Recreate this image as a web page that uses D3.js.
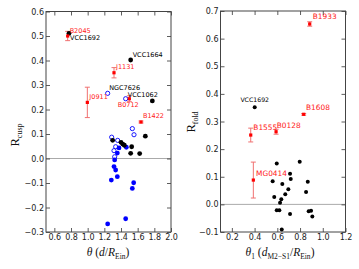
<!doctype html>
<html>
  <head>
    <meta charset="utf-8" />
    <style>
      body { margin: 0; background: #fff; }
      svg { display: block; }
      .tick text { font-family: "DejaVu Sans", sans-serif; font-size: 8px; fill: #222; }
      .lab { font-family: "DejaVu Sans", sans-serif; }
      .ttl { font-family: "Liberation Serif", "DejaVu Serif", serif; fill: #111; }
    </style>
  </head>
  <body>
    <svg id="chart" width="359" height="269"></svg>
    <script src="https://d3js.org/d3.v7.min.js"></script>
    <script>
      // ---- left panel: R_cusp vs theta ----
      const cuspRedNames = ['B2045', 'J1131', 'J0911', 'B0712', 'B1422'];
      const cuspRedX = [0.76, 1.316, 0.996, 1.5, 1.64];
      const cuspRedY = [0.5, 0.35, 0.229, 0.244, 0.149];
      const cuspRedErr = [0.019, 0.021, 0.062, 0.012, 0.004];

      const cuspBlackNames = ['VCC1692', 'VCC1664', 'VCC1062'];
      const cuspBlackX = [0.776, 1.516, 1.776, 1.3, 1.4, 1.42, 1.44, 1.528, 1.516, 1.624, 1.692];
      const cuspBlackY = [0.511, 0.402, 0.235, 0.074, 0.066, 0.059, 0.054, 0.048, 0.021, 0.02, 0.091];

      const cuspOpenNames = ['NGC7626'];
      const cuspOpenX = [1.24, 1.456, 1.536, 1.556, 1.288, 1.36, 1.336, 1.316, 1.324];
      const cuspOpenY = [0.266, 0.244, 0.122, 0.097, 0.087, 0.074, 0.048, 0.032, 0.007];

      const cuspBlueX = [1.376, 1.464, 1.356, 1.324, 1.316, 1.336, 1.356, 1.284, 1.552, 1.536, 1.456, 1.24];
      const cuspBlueY = [0.043, 0.046, 0.022, -0.006, -0.033, -0.047, -0.074, -0.088, -0.099, -0.122, -0.246, -0.267];

      const cuspXTicks = [0.6, 0.8, 1.0, 1.2, 1.4, 1.6, 1.8, 2.0];
      const cuspYTicks = [-0.3, -0.2, -0.1, 0.0, 0.1, 0.2, 0.3, 0.4, 0.5, 0.6];

      // ---- right panel: R_fold vs theta_1 ----
      const foldRedNames = ['B1933', 'B1608', 'B1555', 'B0128', 'MG0414'];
      const foldRedX = [0.885, 0.832, 0.366, 0.589, 0.389];
      const foldRedY = [0.653, 0.326, 0.251, 0.263, 0.088];
      const foldRedErr = [0.008, 0.003, 0.025, 0.009, 0.065];

      const foldBlackNames = ['VCC1692'];
      const foldBlackX = [0.401, 0.595, 0.797, 0.559, 0.712, 0.718, 0.644, 0.868, 0.697, 0.67, 0.853,
        0.573, 0.635, 0.624, 0.595, 0.618, 0.712, 0.876, 0.897, 0.908, 0.639];
      const foldBlackY = [0.352, 0.148, 0.154, 0.084, 0.111, 0.092, 0.074, 0.082, 0.055, 0.037, 0.045,
        0.027, 0.019, 0.006, -0.021, -0.021, -0.035, -0.025, -0.023, -0.044, -0.091];

      const foldXTicks = [0.2, 0.4, 0.6, 0.8, 1.0, 1.2];
      const foldYTicks = [-0.1, 0.0, 0.1, 0.2, 0.3, 0.4, 0.5, 0.6, 0.7];

      // label placement (px offsets from the point)
      const labelOffsets = {
        cusp: {
          B2045: [2, -5.2, 'start'], VCC1692: [1, 4, 'start'], VCC1664: [2, -5, 'start'],
          J1131: [2, -6, 'start'], NGC7626: [1.5, -5.5, 'start'], VCC1062: [-24.6, -6.5, 'start'],
          B0712: [-11.6, 5.6, 'start'], J0911: [2, -5.6, 'start'], B1422: [2, -6, 'start']
        },
        fold: {
          B1933: [3, -7.3, 'start'], VCC1692: [0, -7.7, 'middle'], B1608: [2.3, -6.6, 'start'],
          B1555: [2.6, -7.7, 'start'], B0128: [0.7, -6.4, 'start'], MG0414: [2.7, -6.3, 'start']
        }
      };

      const svg = d3.select('#chart');
      const fmt = (d) => d3.format('.1f')(d).replace('-', '\u2212');

      function drawPanel(p) {
        const x = d3.scaleLinear().domain(p.xDomain).range(p.xRange);
        const y = d3.scaleLinear().domain(p.yDomain).range(p.yRange);
        const g = svg.append('g');
        const [x0, x1] = p.xRange;
        const [y0, y1] = p.yRange; // y0 bottom, y1 top

        // zero line
        g.append('line')
          .attr('x1', x0).attr('x2', x1)
          .attr('y1', y(0)).attr('y2', y(0))
          .attr('stroke', '#aaa').attr('stroke-width', 1);

        // axes, ticks inward on every side
        const axes = [
          [d3.axisBottom(x).tickValues(p.xTicks).tickFormat(fmt), `translate(0,${y0})`, true],
          [d3.axisTop(x).tickValues(p.xTicks), `translate(0,${y1})`, false],
          [d3.axisLeft(y).tickValues(p.yTicks).tickFormat(fmt), `translate(${x0},0)`, true],
          [d3.axisRight(y).tickValues(p.yTicks), `translate(${x1},0)`, false]
        ];
        axes.forEach(([ax, tr, labels]) => {
          ax.tickSizeInner(-4).tickSizeOuter(0).tickPadding(2);
          if (!labels) ax.tickFormat('');
          const a = g.append('g').attr('transform', tr).call(ax);
          a.select('.domain').remove();
          a.selectAll('.tick line').attr('stroke', '#333').attr('stroke-width', 0.8);
        });
        g.append('rect')
          .attr('x', x0).attr('y', y1)
          .attr('width', x1 - x0).attr('height', y0 - y1)
          .attr('fill', 'none').attr('stroke', '#444').attr('stroke-width', 1);

        // error bars
        p.red.x.forEach((xv, i) => {
          const e = p.red.err[i];
          const eb = g.append('g').attr('stroke', '#f07070').attr('stroke-width', 1);
          eb.append('line').attr('x1', x(xv)).attr('x2', x(xv))
            .attr('y1', y(p.red.y[i] - e)).attr('y2', y(p.red.y[i] + e));
          [p.red.y[i] - e, p.red.y[i] + e].forEach((v) => {
            eb.append('line').attr('x1', x(xv) - 2.5).attr('x2', x(xv) + 2.5)
              .attr('y1', y(v)).attr('y2', y(v));
          });
        });

        if (p.open) {
          p.open.x.forEach((xv, i) => {
            g.append('circle').attr('cx', x(xv)).attr('cy', y(p.open.y[i]))
              .attr('r', 2.1).attr('fill', 'none').attr('stroke', '#0000ff').attr('stroke-width', 0.9);
          });
        }
        if (p.blue) {
          p.blue.x.forEach((xv, i) => {
            g.append('circle').attr('cx', x(xv)).attr('cy', y(p.blue.y[i]))
              .attr('r', p.dotR).attr('fill', '#0000ff');
          });
        }
        p.black.x.forEach((xv, i) => {
          g.append('circle').attr('cx', x(xv)).attr('cy', y(p.black.y[i]))
            .attr('r', p.dotR).attr('fill', '#000');
        });
        p.red.x.forEach((xv, i) => {
          g.append('rect').attr('x', x(xv) - 1.6).attr('y', y(p.red.y[i]) - 1.6)
            .attr('width', 3.2).attr('height', 3.2).attr('fill', '#ff0000');
        });

        // annotations
        const addLabels = (set, color, size) => {
          set.names.forEach((n, i) => {
            const o = p.offsets[n];
            g.append('text').attr('class', 'lab')
              .attr('x', x(set.x[i]) + o[0]).attr('y', y(set.y[i]) + o[1])
              .attr('dy', '0.35em').attr('text-anchor', o[2])
              .attr('font-size', size).attr('fill', color).text(n);
          });
        };
        addLabels(p.red, '#ff2020', p.redSize);
        addLabels(p.black, '#000', p.blackSize);
        if (p.open) addLabels(p.open, '#000', p.blackSize);
      }

      drawPanel({
        xDomain: [0.5, 2.0], xRange: [46, 171],
        yDomain: [-0.3, 0.6], yRange: [232, 11.5],
        xTicks: cuspXTicks, yTicks: cuspYTicks,
        red: { names: cuspRedNames, x: cuspRedX, y: cuspRedY, err: cuspRedErr },
        black: { names: cuspBlackNames, x: cuspBlackX, y: cuspBlackY },
        open: { names: cuspOpenNames, x: cuspOpenX, y: cuspOpenY },
        blue: { x: cuspBlueX, y: cuspBlueY },
        offsets: labelOffsets.cusp, dotR: 2.4, redSize: 6.5, blackSize: 6.5
      });

      drawPanel({
        xDomain: [0.1, 1.2], xRange: [220.5, 345.5],
        yDomain: [-0.1, 0.7], yRange: [232, 11],
        xTicks: foldXTicks, yTicks: foldYTicks,
        red: { names: foldRedNames, x: foldRedX, y: foldRedY, err: foldRedErr },
        black: { names: foldBlackNames, x: foldBlackX, y: foldBlackY },
        offsets: labelOffsets.fold, dotR: 2.0, redSize: 7.4, blackSize: 6.2
      });

      // axis titles
      function yTitle(cx, cy, sub) {
        const t = svg.append('text').attr('class', 'ttl')
          .attr('transform', `translate(${cx},${cy}) rotate(-90)`)
          .attr('text-anchor', 'middle').attr('font-size', 12.5);
        t.append('tspan').text('R');
        t.append('tspan').attr('font-size', 8).attr('dy', 2.5).text(sub);
      }
      yTitle(19, 135, 'cusp');
      yTitle(195, 122, 'fold');

      const xt1 = svg.append('text').attr('class', 'ttl')
        .attr('x', 108).attr('y', 256).attr('text-anchor', 'middle').attr('font-size', 11.5);
      xt1.append('tspan').attr('font-style', 'italic').text('θ');
      xt1.append('tspan').text(' (');
      xt1.append('tspan').attr('font-style', 'italic').text('d');
      xt1.append('tspan').text('/');
      xt1.append('tspan').attr('font-style', 'italic').text('R');
      xt1.append('tspan').attr('font-size', 7.5).attr('dy', 2.5).text('Ein');
      xt1.append('tspan').attr('dy', -2.5).text(')');

      const xt2 = svg.append('text').attr('class', 'ttl')
        .attr('x', 280).attr('y', 256).attr('text-anchor', 'middle').attr('font-size', 11.5);
      xt2.append('tspan').attr('font-style', 'italic').text('θ');
      xt2.append('tspan').attr('font-size', 7.5).attr('dy', 2.5).text('1');
      xt2.append('tspan').attr('dy', -2.5).text(' (');
      xt2.append('tspan').attr('font-style', 'italic').text('d');
      xt2.append('tspan').attr('font-size', 7.5).attr('dy', 2.5).text('M2\u2212S1');
      xt2.append('tspan').attr('dy', -2.5).text('/');
      xt2.append('tspan').attr('font-style', 'italic').text('R');
      xt2.append('tspan').attr('font-size', 7.5).attr('dy', 2.5).text('Ein');
      xt2.append('tspan').attr('dy', -2.5).text(')');
    </script>
  </body>
</html>
